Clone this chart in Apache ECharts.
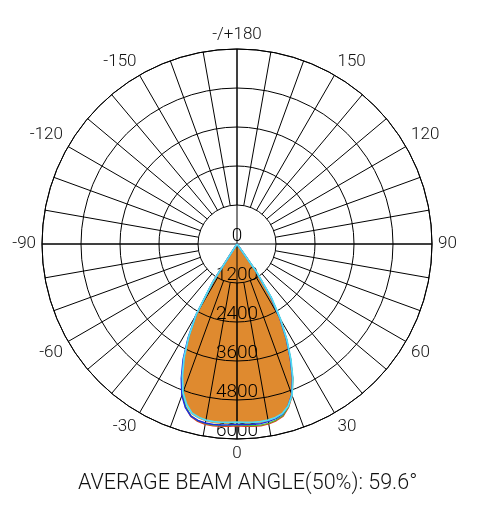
<!DOCTYPE html>
<html>
<head>
<meta charset="utf-8">
<script src="https://cdn.jsdelivr.net/npm/echarts@6/dist/echarts.min.js"></script>
<style>
html, body { margin: 0; padding: 0; background: #fff; }
#chart { width: 478px; height: 512px; }
</style>
</head>
<body>
<div id="chart"></div>
<script>
// gamma angles (deg), 0 = straight down, + = right side
var angles = [-37.5, -35, -32.5, -30, -27.5, -25, -22.5, -20, -17.5, -15, -12.5, -10, -7.5, -5, -2.5,
    0, 2.5, 5, 7.5, 10, 12.5, 15, 17.5, 20, 22.5, 25, 27.5, 30, 32.5, 35, 37.5];
// luminous intensity (cd)
var fillValues = [0, 0, 1350, 2500, 3200, 3850, 4400, 4880, 5200, 5420, 5500, 5545, 5565, 5560, 5540,
    5520, 5540, 5560, 5565, 5545, 5505, 5430, 5240, 4950, 4480, 3900, 3300, 2650, 1950, 1000, 0];
var redValues = [0, 0, 1330, 2480, 3190, 3860, 4420, 4920, 5260, 5490, 5590, 5630, 5640, 5630, 5610,
    5590, 5610, 5630, 5640, 5620, 5570, 5480, 5270, 4960, 4480, 3890, 3290, 2640, 1940, 990, 0];
var greenValues = [0, 0, 1340, 2490, 3200, 3860, 4410, 4900, 5240, 5470, 5570, 5610, 5620, 5610, 5590,
    5570, 5590, 5610, 5620, 5600, 5550, 5460, 5260, 4950, 4480, 3900, 3300, 2650, 1950, 1000, 0];
var blueValues = [0, 0, 1380, 2540, 3260, 3930, 4480, 4960, 5280, 5480, 5560, 5590, 5600, 5590, 5570,
    5550, 5560, 5570, 5575, 5550, 5505, 5420, 5220, 4930, 4460, 3880, 3280, 2630, 1930, 980, 0];
var cyanValues = [0, 0, 1400, 2520, 3210, 3850, 4390, 4860, 5170, 5380, 5460, 5500, 5515, 5510, 5495,
    5480, 5495, 5510, 5515, 5500, 5470, 5400, 5230, 4950, 4490, 3920, 3320, 2680, 2000, 1050, 0];

var ringValues = [0, 1200, 2400, 3600, 4800, 6000];
var angleLabels = {0: "0", 30: "30", 60: "60", 90: "90", 120: "120", 150: "150", 180: "-/+180",
    210: "-150", 240: "-120", 270: "-90", 300: "-60", 330: "-30"};
var titleText = "AVERAGE BEAM ANGLE(50%): 59.6°";

var FONT = "Roboto";
var CX = 237, CY = 244, R = 195;

function toPolar(vals) {
    var out = [];
    for (var i = 0; i < angles.length; i++) {
        var a = angles[i] < 0 ? angles[i] + 360 : angles[i];
        out.push([vals[i], a]);
    }
    return out;
}

function outline(vals, color, w) {
    return {
        type: "line",
        coordinateSystem: "polar",
        polarIndex: 1,
        data: toPolar(vals),
        symbol: "none",
        silent: true,
        z: 6,
        lineStyle: { color: color, width: w }
    };
}

var chart = echarts.init(document.getElementById("chart"));
var innerR = R * ringValues[1] / ringValues[ringValues.length - 1];

var option = {
    backgroundColor: "#fff",
    animation: false,
    title: {
        text: titleText,
        left: 73,
        top: 468,
        textStyle: { fontFamily: FONT, fontSize: 21.5, fontWeight: 300, color: "#111" }
    },
    polar: [
        { center: [CX, CY], radius: [innerR, R] },
        { center: [CX, CY], radius: [0, R] }
    ],
    angleAxis: [
        {
            polarIndex: 0,
            type: "value",
            min: 0, max: 360, interval: 10,
            startAngle: 270, clockwise: false,
            z: 5,
            axisLine: { show: false },
            axisTick: { show: false },
            splitLine: { show: true, lineStyle: { color: "#000", width: 1 } },
            axisLabel: {
                margin: 6,
                fontFamily: FONT, fontSize: 17, fontWeight: 300, color: "#111",
                formatter: function (v) { return angleLabels[v] !== undefined && v !== 360 ? angleLabels[v] : ""; }
            }
        },
        {
            polarIndex: 1,
            type: "value",
            min: 0, max: 360, interval: 90,
            startAngle: 270, clockwise: false,
            z: 5,
            axisLine: { show: true, lineStyle: { color: "#000", width: 1 } },
            axisTick: { show: false },
            axisLabel: { show: false },
            splitLine: { show: true, lineStyle: { color: "#000", width: 1 } }
        }
    ],
    radiusAxis: [
        { polarIndex: 0, show: false, min: 0, max: 1 },
        {
            polarIndex: 1,
            type: "value",
            min: ringValues[0], max: ringValues[ringValues.length - 1], interval: ringValues[1] - ringValues[0],
            z: 5,
            axisLine: { show: false },
            axisTick: { show: false },
            splitLine: { show: true, lineStyle: { color: "#000", width: 1 } },
            axisLabel: {
                margin: 0,
                rotate: 0,
                align: "center",
                verticalAlign: "bottom",
                lineHeight: 15,
                fontFamily: FONT, fontSize: 19, fontWeight: 300, color: "#000",
                formatter: function (v) { return String(v); }
            }
        }
    ],
    series: [
        {
            type: "line",
            coordinateSystem: "polar",
            polarIndex: 1,
            data: toPolar(fillValues),
            symbol: "none",
            silent: true,
            z: 1,
            lineStyle: { width: 0 },
            areaStyle: { color: "#df8a2f", opacity: 1 }
        },
        outline(redValues, "#e8321e", 1.5),
        outline(greenValues, "#4cc43c", 1.2),
        outline(blueValues, "#1d2ee0", 1.5),
        outline(cyanValues, "#52dcf2", 1.8)
    ]
};
chart.setOption(option);
</script>
</body>
</html>
